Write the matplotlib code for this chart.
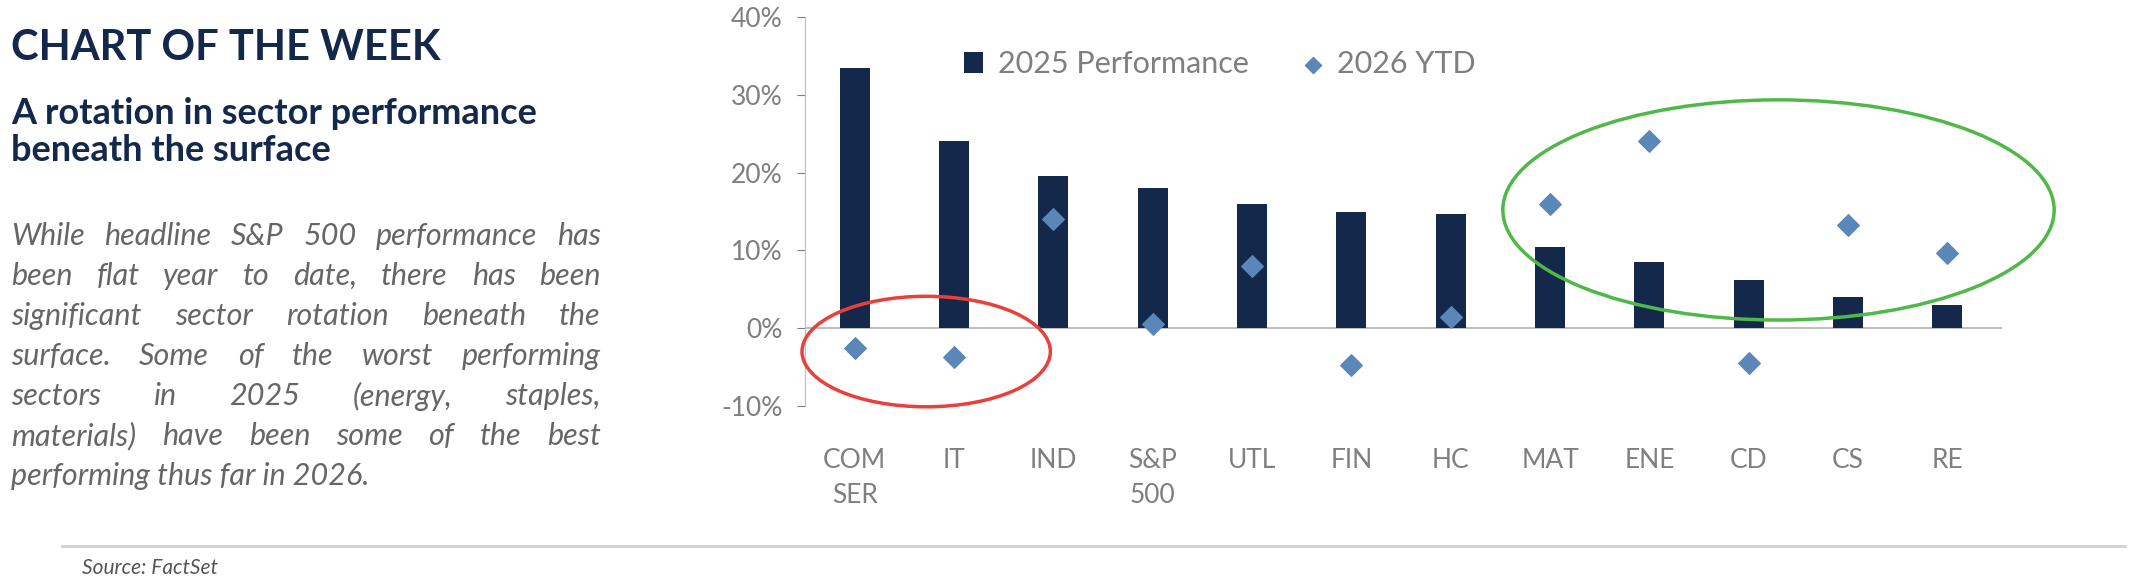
import matplotlib.pyplot as plt
from matplotlib.patches import Ellipse
from matplotlib.ticker import FuncFormatter

plt.rcParams['font.family'] = ['Lato', 'DejaVu Sans']

sectors = ['COM\nSER', 'IT', 'IND', 'S&P\n500', 'UTL', 'FIN', 'HC', 'MAT', 'ENE', 'CD', 'CS', 'RE']
perf_2025 = [33.5, 24.0, 19.5, 18.0, 16.0, 15.0, 14.7, 10.5, 8.5, 6.2, 4.0, 3.0]
ytd_2026 = [-2.5, -3.7, 14.0, 0.5, 8.0, -4.7, 1.5, 16.0, 24.0, -4.5, 13.3, 9.7]

body = [
    "While headline S&P 500 performance has",
    "been flat year to date, there has been",
    "significant sector rotation beneath the",
    "surface. Some of the worst performing",
    "sectors in 2025 (energy, staples,",
    "materials) have been some of the best",
    "performing thus far in 2026.",
]

W, H = 2156, 586
navy = '#14284b'
grey = '#7f7f7f'
fig = plt.figure(figsize=(W / 100, H / 100), dpi=100)

ax = fig.add_axes([805 / W, 1 - 406 / H, (2002 - 805) / W, (406 - 17) / H])
x = range(len(sectors))
bars = ax.bar(x, perf_2025, width=0.3, color=navy, label='2025 Performance', zorder=2)
pts = ax.scatter(x, ytd_2026, marker='D', s=120, color='#5b87b8', label='2026 YTD', zorder=3)
ax.set_ylim(-10, 40)
ax.set_xlim(-0.5, 11.55)
ax.set_yticks(range(-10, 41, 10))
ax.yaxis.set_major_formatter(FuncFormatter(lambda v, p: f'{v:.0f}%'))
ax.set_xticks(list(x))
ax.set_xticklabels(sectors, linespacing=1.5, va='top')
ax.tick_params(axis='both', labelsize=19, colors=grey, labelcolor=grey)
ax.tick_params(axis='x', length=0, pad=30)
ax.tick_params(axis='y', length=6, pad=10)
for s in ['top', 'right', 'bottom']:
    ax.spines[s].set_visible(False)
ax.spines['left'].set_color('#bfbfbf')
ax.axhline(0, color='#bfbfbf', lw=1.5, zorder=1)
ax.add_patch(Ellipse((0.72, -3.0), 2.5, 14.2, fill=False, ec='#e8403a', lw=2.5,
                     zorder=4, clip_on=False))
ax.add_patch(Ellipse((9.3, 15.2), 5.55, 28.3, fill=False, ec='#4fb848', lw=2.5,
                     zorder=4, clip_on=False))
ax.legend([bars, pts], ['2025 Performance', '2026 YTD'], loc='upper left',
          bbox_to_anchor=(0.11, 0.985), ncol=2, frameon=False,
          fontsize=22, labelcolor=grey, handlelength=0.6, columnspacing=1.8,
          handletextpad=0.5, markerscale=0.75)

fig.text(11 / W, 1 - 48 / H, 'CHART OF THE WEEK', fontsize=30, fontweight='bold',
         color=navy, va='center')
fig.text(11 / W, 1 - 113 / H, 'A rotation in sector performance', fontsize=26,
         fontweight='bold', color=navy, va='center')
fig.text(11 / W, 1 - 151 / H, 'beneath the surface', fontsize=26,
         fontweight='bold', color=navy, va='center')

# justified body text
fig.canvas.draw()
r = fig.canvas.get_renderer()
left, right = 11, 601
for i, line in enumerate(body):
    y = 1 - (236 + i * 40) / H
    words = line.split(' ')
    if i == len(body) - 1:
        fig.text(left / W, y, line, fontsize=22, style='italic', color='#666666', va='center')
        continue
    objs = [fig.text(0, y, w_, fontsize=22, style='italic', color='#666666', va='center') for w_ in words]
    widths = [o.get_window_extent(r).width for o in objs]
    gap = (right - left - sum(widths)) / (len(words) - 1)
    pos = left
    for o, wd in zip(objs, widths):
        o.set_x(pos / W)
        pos += wd + gap

fig.add_artist(plt.Line2D([62 / W, 2125 / W], [1 - 546 / H] * 2, color='#d0d0d0', lw=2))
fig.text(82 / W, 1 - 568 / H, 'Source: FactSet', fontsize=15, style='italic',
         color='#555555', va='center')

fig.savefig('out.png', dpi=100)
